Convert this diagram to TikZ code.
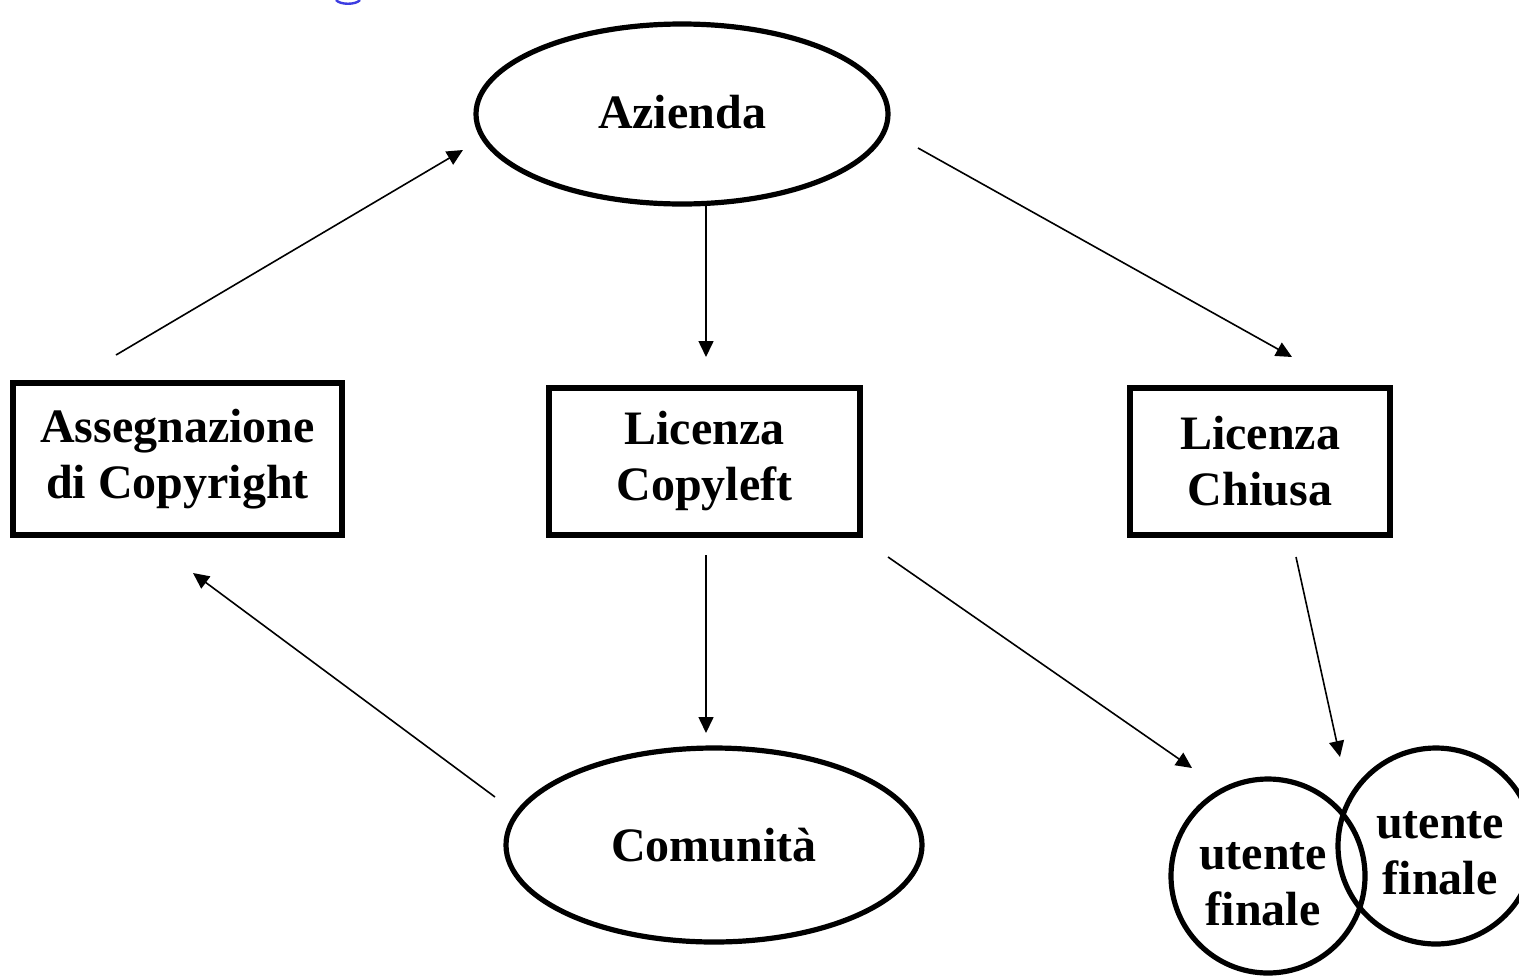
\documentclass[tikz,border=0pt]{standalone}
\usepackage{fontspec}
\setmainfont{Liberation Serif}
\usetikzlibrary{shapes.geometric,arrows.meta}
\begin{document}
\begin{tikzpicture}[x=0.5pt,y=-0.5pt,
  lbl/.style={font=\fontsize{24}{28}\selectfont\bfseries, align=center},
  ell/.style={draw, line width=2.6pt, ellipse, inner sep=0pt},
  boxnode/.style={draw, line width=2.6pt, rectangle, inner sep=0pt, lbl},
  circ/.style={draw, line width=2.6pt, circle, inner sep=0pt},
  conn/.style={line width=0.8pt, -{Triangle[length=8pt,width=7.5pt]}}]
\useasboundingbox (0,0) rectangle (1519,975);
\begin{scope}
\clip (0,0) rectangle (1519,975);
% title fragment
\draw[line width=1.2pt, color={rgb,255:red,60;green,60;blue,225}] (336,0) .. controls (340,5) and (356,5) .. (360,0);
% nodes
\node[ell, minimum width=206pt, minimum height=90pt] (az) at (682,114) {};
\node[lbl] at (682,112) {Azienda};
\node[ell, minimum width=208pt, minimum height=97pt] (co) at (714,845) {};
\node[lbl] at (co.center) {Comunità};
\node[boxnode, minimum width=164.5pt, minimum height=76pt] (as) at (177.5,459) {Assegnazione\\di Copyright};
\node[boxnode, minimum width=155.5pt, minimum height=73.5pt] (cl) at (704.5,461.5) {Licenza\\Copyleft};
\node[boxnode, minimum width=130pt, minimum height=73.5pt] (ch) at (1260,461.5) {Licenza\\Chiusa};
\node[circ, minimum size=97pt] (u1) at (1268,876) {};
\node[lbl] at (1263,884) {utente\\finale};
\node[circ, minimum size=98pt] (u2) at (1436,846) {};
\node[lbl] at (1440,853) {utente\\finale};
\end{scope}
% connector end points
\coordinate (p1) at (116,355);  \coordinate (q1) at (463,150);
\coordinate (p2) at (706,206);  \coordinate (q2) at (706,357);
\coordinate (p3) at (918,148);  \coordinate (q3) at (1292,357);
\coordinate (p4) at (706,555);  \coordinate (q4) at (706,733);
\coordinate (p5) at (495,797);  \coordinate (q5) at (193,573);
\coordinate (p6) at (888,557);  \coordinate (q6) at (1192,768);
\coordinate (p7) at (1296,557); \coordinate (q7) at (1340,757);
\draw[conn] (p1) -- (q1);
\draw[conn] (p2) -- (q2);
\draw[conn] (p3) -- (q3);
\draw[conn] (p4) -- (q4);
\draw[conn] (p5) -- (q5);
\draw[conn] (p6) -- (q6);
\draw[conn] (p7) -- (q7);
\end{tikzpicture}
\end{document}
